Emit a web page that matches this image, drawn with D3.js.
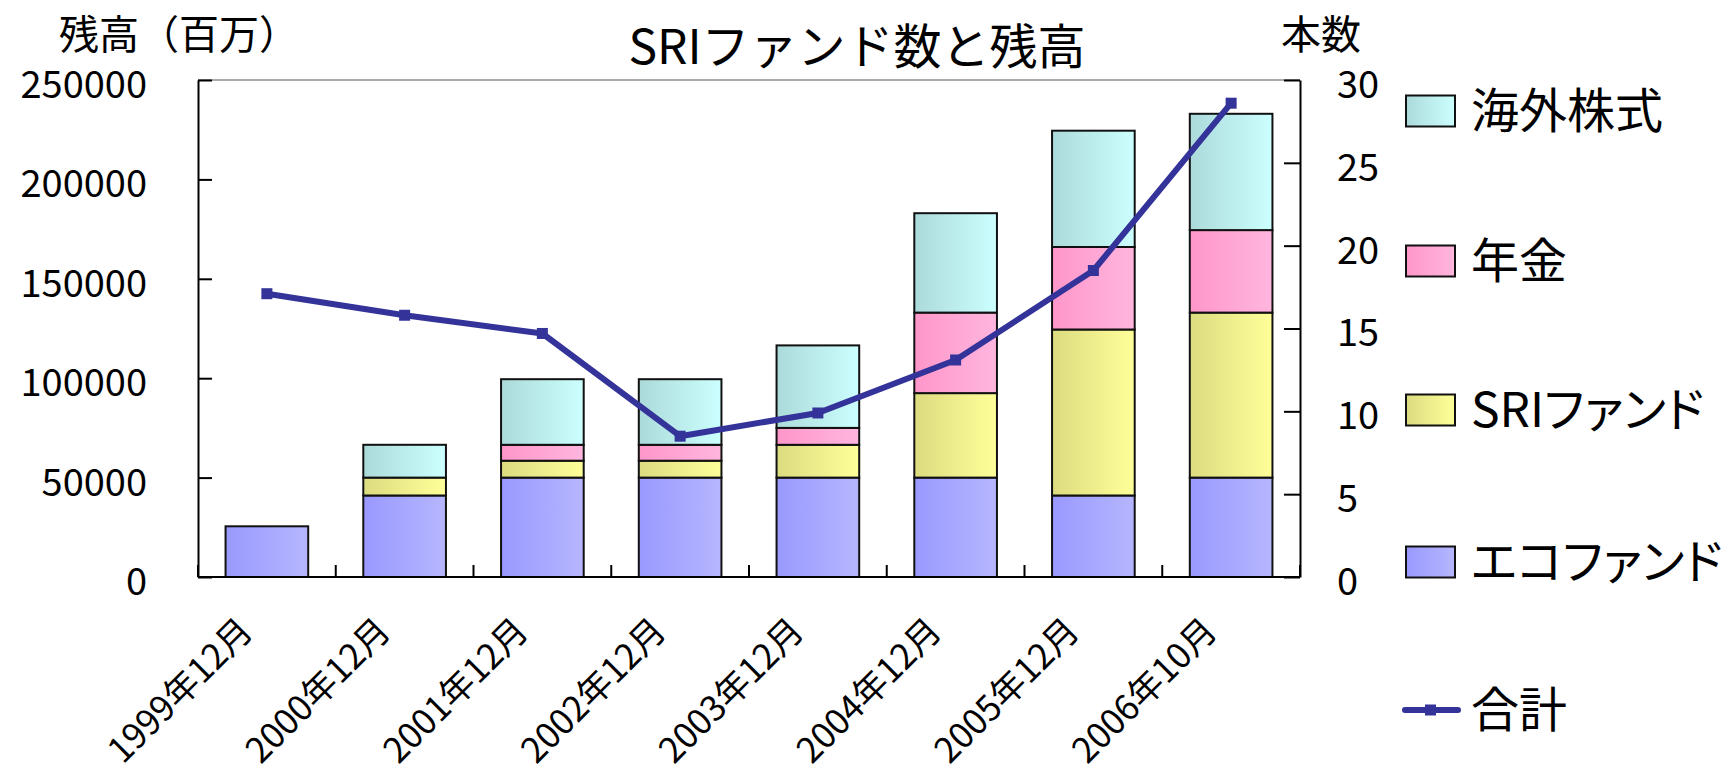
<!DOCTYPE html>
<html>
<head>
<meta charset="utf-8">
<script src="https://cdn.jsdelivr.net/npm/d3@7"></script>
<style>
  body { margin: 0; background: #fff; }
  svg text { font-family: "Noto Sans CJK JP", "Noto Sans", sans-serif; fill: #000; }
  .palt { font-feature-settings: "palt"; }
</style>
</head>
<body>
<div class="chart"></div>
<script>
// categories and values
var categories = ["1999年12月", "2000年12月", "2001年12月", "2002年12月",
                  "2003年12月", "2004年12月", "2005年12月", "2006年10月"];
var ecoFund   = [25500, 41000, 50000, 50000, 50000, 50000, 41000, 50000];
var sriFund   = [0, 9000, 8500, 8500, 16500, 42500, 83500, 83000];
var pension   = [0, 0, 8000, 8000, 8500, 40500, 41500, 41500];
var foreign   = [0, 16500, 33000, 33000, 41500, 50000, 58500, 58500];
var fundCount = [17.1, 15.8, 14.7, 8.5, 9.9, 13.1, 18.5, 28.6];

var seriesNames = ["エコファンド", "SRIファンド", "年金", "海外株式"];
var leftTicks = [0, 50000, 100000, 150000, 200000, 250000];
var rightTicks = [0, 5, 10, 15, 20, 25, 30];

var W = 1726, H = 774;
var plot = { left: 198, right: 1300, top: 80, bottom: 577 };

var svg = d3.select(".chart").append("svg")
    .attr("width", W)
    .attr("height", H);

// gradients, darker on the left side of each bar
var grads = [
    { id: "gEco", from: "#9999ff", to: "#b6b6ff" },
    { id: "gSri", from: "#dcdc80", to: "#ffff99" },
    { id: "gPen", from: "#ff96ca", to: "#ffb6de" },
    { id: "gFor", from: "#acdada", to: "#ccffff" }
];
var defs = svg.append("defs");
grads.forEach(function (g) {
    var lg = defs.append("linearGradient")
        .attr("id", g.id)
        .attr("x1", 0).attr("x2", 1).attr("y1", 0).attr("y2", 0);
    lg.append("stop").attr("offset", "0%").attr("stop-color", g.from);
    lg.append("stop").attr("offset", "100%").attr("stop-color", g.to);
});

var x = d3.scaleBand()
    .domain(categories)
    .range([plot.left, plot.right])
    .paddingInner(0.4)
    .paddingOuter(0.2);
var y = d3.scaleLinear().domain([0, 250000]).range([plot.bottom, plot.top]);
var y2 = d3.scaleLinear().domain([0, 30]).range([plot.bottom, plot.top]);

var rows = categories.map(function (c, i) {
    return { cat: c, eco: ecoFund[i], sri: sriFund[i], pen: pension[i], fgn: foreign[i] };
});
var keys = ["eco", "sri", "pen", "fgn"];
var stacked = d3.stack().keys(keys)(rows);

// bars
var layers = svg.append("g").selectAll("g")
    .data(stacked)
    .enter().append("g")
    .attr("fill", function (d, i) { return "url(#" + grads[i].id + ")"; });

layers.selectAll("rect")
    .data(function (d) { return d.filter(function (p) { return p[1] - p[0] > 0; }); })
    .enter().append("rect")
    .attr("x", function (d) { return x(d.data.cat); })
    .attr("width", x.bandwidth())
    .attr("y", function (d) { return y(d[1]); })
    .attr("height", function (d) { return y(d[0]) - y(d[1]); })
    .attr("stroke", "#111")
    .attr("stroke-width", 2);

// frame: grey top, black axes
svg.append("line")
    .attr("x1", plot.left).attr("x2", plot.right)
    .attr("y1", plot.top).attr("y2", plot.top)
    .attr("stroke", "#aaa").attr("stroke-width", 2);

var leftAxis = svg.append("g")
    .attr("transform", "translate(" + plot.left + ",0)")
    .call(d3.axisLeft(y).tickValues(leftTicks).tickFormat(d3.format("d"))
        .tickSizeInner(-14).tickSizeOuter(0).tickPadding(51));
var rightAxis = svg.append("g")
    .attr("transform", "translate(" + plot.right + ",0)")
    .call(d3.axisRight(y2).tickValues(rightTicks).tickFormat(d3.format("d"))
        .tickSizeInner(-16).tickSizeOuter(0).tickPadding(37));

[leftAxis, rightAxis].forEach(function (a) {
    a.select(".domain").attr("stroke", "#000").attr("stroke-width", 2);
    a.selectAll(".tick line").attr("stroke", "#000").attr("stroke-width", 2);
    a.selectAll(".tick text")
        .attr("dy", "0.46em")
        .style("font-size", "38px");
});

// bottom axis with ticks between categories
svg.append("line")
    .attr("x1", plot.left).attr("x2", plot.right)
    .attr("y1", plot.bottom).attr("y2", plot.bottom)
    .attr("stroke", "#000").attr("stroke-width", 2);
svg.append("g").selectAll("line")
    .data(d3.range(categories.length + 1))
    .enter().append("line")
    .attr("x1", function (i) { return plot.left + i * x.step(); })
    .attr("x2", function (i) { return plot.left + i * x.step(); })
    .attr("y1", plot.bottom)
    .attr("y2", plot.bottom - 12)
    .attr("stroke", "#000").attr("stroke-width", 2);

svg.append("g").selectAll("text")
    .data(categories)
    .enter().append("text")
    .attr("class", "palt")
    .attr("transform", function (d) {
        return "translate(" + (x(d) + x.bandwidth() / 2 - 12) + "," + (plot.bottom + 56) + ") rotate(-45)";
    })
    .attr("text-anchor", "end")
    .style("font-size", "35px")
    .text(function (d) { return d; });

// total line
var lineGen = d3.line()
    .x(function (d, i) { return x(categories[i]) + x.bandwidth() / 2; })
    .y(function (d) { return y2(d); });

svg.append("path")
    .datum(fundCount)
    .attr("d", lineGen)
    .attr("fill", "none")
    .attr("stroke", "#333399")
    .attr("stroke-width", 6)
    .attr("stroke-linejoin", "round");

svg.append("g").selectAll("rect")
    .data(fundCount)
    .enter().append("rect")
    .attr("x", function (d, i) { return x(categories[i]) + x.bandwidth() / 2 - 5.5; })
    .attr("y", function (d) { return y2(d) - 5.5; })
    .attr("width", 11).attr("height", 11)
    .attr("fill", "#333399");

// titles
svg.append("text")
    .attr("x", 857).attr("y", 64)
    .attr("text-anchor", "middle")
    .style("font-size", "48px")
    .text("SRIファンド数と残高");
svg.append("text")
    .attr("x", 59).attr("y", 49)
    .style("font-size", "40px")
    .text("残高（百万）");
svg.append("text")
    .attr("x", 1281).attr("y", 49)
    .style("font-size", "40px")
    .text("本数");

// legend, top to bottom: 海外株式, 年金, SRIファンド, エコファンド, 合計
var legendItems = [
    { name: seriesNames[3], grad: "gFor", cy: 111 },
    { name: seriesNames[2], grad: "gPen", cy: 261 },
    { name: seriesNames[1], grad: "gSri", cy: 410 },
    { name: seriesNames[0], grad: "gEco", cy: 562 }
];
var legend = svg.append("g");
legendItems.forEach(function (it) {
    legend.append("rect")
        .attr("x", 1406).attr("y", it.cy - 15.5)
        .attr("width", 49).attr("height", 31)
        .attr("fill", "url(#" + it.grad + ")")
        .attr("stroke", "#111").attr("stroke-width", 2);
    legend.append("text")
        .attr("class", "palt")
        .attr("x", 1471).attr("y", it.cy)
        .attr("dy", "0.36em")
        .style("font-size", "48px")
        .text(it.name);
});
legend.append("line")
    .attr("x1", 1405).attr("x2", 1458)
    .attr("y1", 710).attr("y2", 710)
    .attr("stroke", "#333399").attr("stroke-width", 6)
    .attr("stroke-linecap", "round");
legend.append("rect")
    .attr("x", 1425).attr("y", 704.5)
    .attr("width", 11).attr("height", 11)
    .attr("fill", "#333399");
legend.append("text")
    .attr("x", 1471).attr("y", 710)
    .attr("dy", "0.36em")
    .style("font-size", "48px")
    .text("合計");
</script>
</body>
</html>
